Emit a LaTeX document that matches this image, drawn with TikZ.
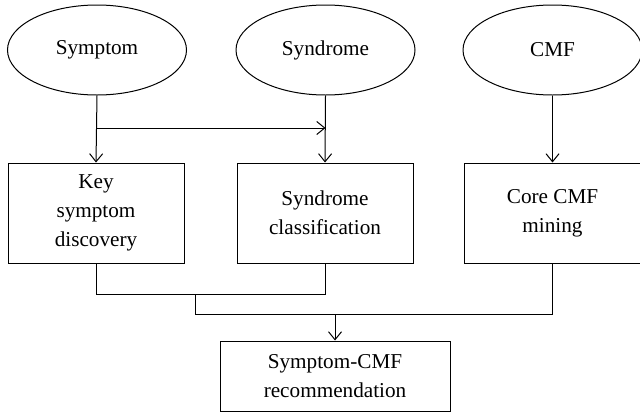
\documentclass[tikz,border=0pt]{standalone}
\usepackage{fontspec}
\setmainfont{Liberation Serif}
\usetikzlibrary{shapes.geometric,arrows.meta}

\tikzset{
	ellip/.style = {draw, ellipse, line width=0.5pt, inner sep=0pt,
		minimum width=89.5pt, minimum height=45pt},
	blk/.style = {draw, rectangle, line width=0.5pt, align=center, inner sep=0pt,
		minimum width=88pt, minimum height=50pt},
	arr/.style = {-{Straight Barb[length=4pt,width=6.5pt]}},
	every node/.style = {font=\fontsize{10.6}{14.5}\selectfont},
}

\begin{document}
\begin{tikzpicture}[x=0.5pt, y=0.5pt, line width=0.5pt]

	\useasboundingbox (0,0) rectangle (640,414);

	\node [ellip] (sym) at (97,364) {Symptom};
	\node [ellip] (syn) at (325.5,364) {Syndrome};
	\node [ellip] (cmf) at (552.5,364) {CMF};

	\node [blk] (key) at (96,201) {Key\\symptom\\discovery};
	\node [blk] (cls) at (325,201) {Syndrome\\classification};
	\node [blk] (core) at (552.5,201) {Core CMF\\mining};

	\node [blk, minimum width=115pt, minimum height=35pt] (rec) at (335,38)
		{Symptom-CMF\\recommendation};

	\coordinate (j1) at (97,286);
	\coordinate (m1) at (195,120);
	\coordinate (m2) at (335,100);

	\draw [arr] (sym.south) -- (key.north);
	\draw [arr] (j1) -- (j1 -| syn.south);
	\draw [arr] (syn.south) -- (cls.north);
	\draw [arr] (cmf.south) -- (core.north);

	\draw 	(key.south) --
			(key.south |- m1) --
			(cls.south |- m1) --
			(cls.south);
	\draw 	(m1) --
			(m1 |- m2) --
			(core.south |- m2) --
			(core.south);

	\draw [arr] (m2) -- (rec.north);

\end{tikzpicture}
\end{document}
